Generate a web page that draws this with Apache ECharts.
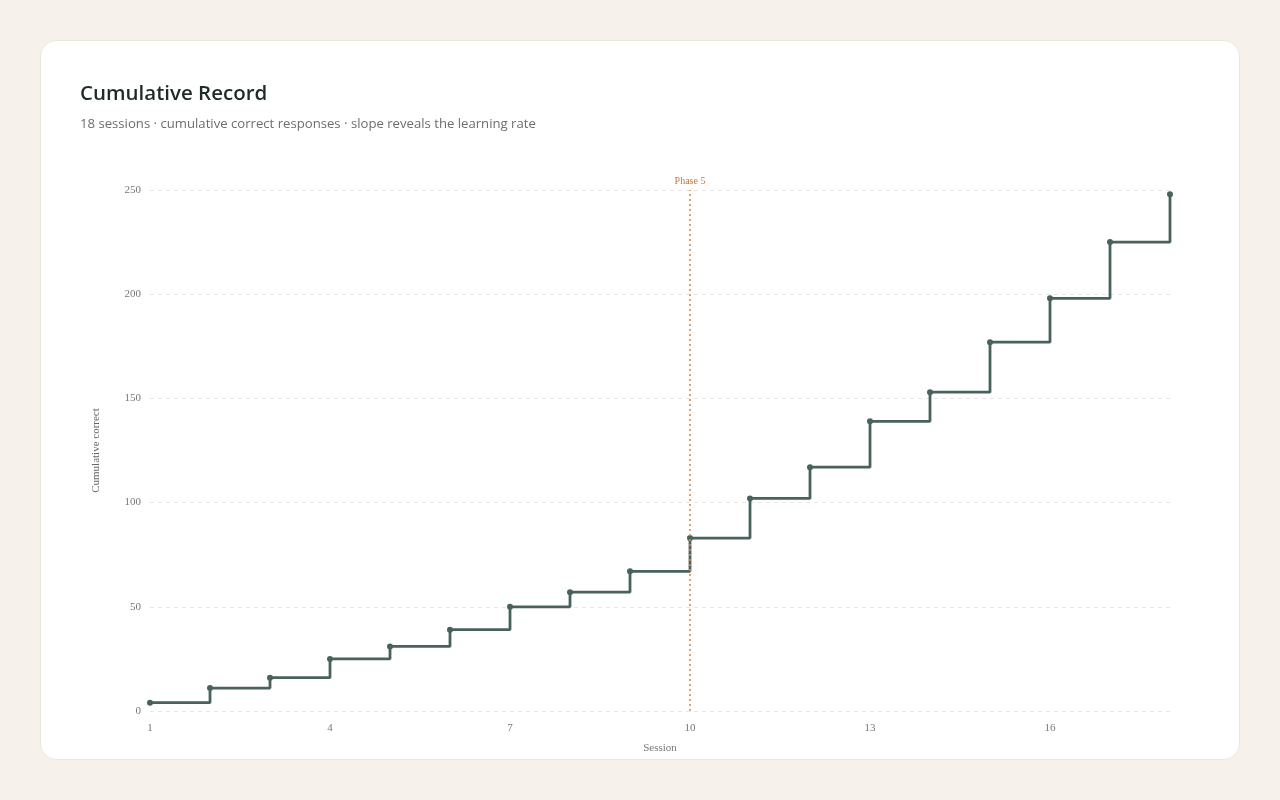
<!DOCTYPE html>
<html lang="en" style="height: 100%">
<head>
  <meta charset="utf-8">
  <title>Cumulative Record</title>
</head>
<body style="height: 100%; margin: 0; background: #f6f2eb">
  <div id="card" style="position: absolute; left: 40px; top: 40px; width: 1198px; height: 718px; background: #fff; border: 1px solid #ebe6de; border-radius: 16px;">
    <div id="container" style="width: 100%; height: 100%"></div>
  </div>
  <script type="text/javascript" src="https://cdn.jsdelivr.net/npm/echarts@6/dist/echarts.min.js"></script>
  <script type="text/javascript">
    // sessions and cumulative correct responses
    const sessions = ['1','2','3','4','5','6','7','8','9','10','11','12','13','14','15','16','17','18'];
    const cumulative = [4, 11, 16, 25, 31, 39, 50, 57, 67, 83, 102, 117, 139, 153, 177, 198, 225, 248];
    const phaseSession = '10';
    const phaseLabel = 'Phase 5';

    var dom = document.getElementById('container');
    var myChart = echarts.init(dom, null, { renderer: 'canvas' });

    const serif = '"Liberation Serif", "DejaVu Serif", serif';

    var option = {
      animation: false,
      title: {
        text: 'Cumulative Record',
        subtext: '18 sessions · cumulative correct responses · slope reveals the learning rate',
        left: 34,
        top: 38,
        itemGap: 13,
        textStyle: {
          fontFamily: '"Open Sans", "Noto Sans", sans-serif',
          fontSize: 20.5,
          fontWeight: 600,
          color: '#1f2b28'
        },
        subtextStyle: {
          fontFamily: '"Open Sans", "Noto Sans", sans-serif',
          fontSize: 13.15,
          color: '#6b6f6c'
        }
      },
      grid: {
        left: 109,
        right: 69,
        top: 149,
        bottom: 48
      },
      xAxis: {
        type: 'category',
        data: sessions,
        boundaryGap: false,
        name: 'Session',
        nameLocation: 'middle',
        nameGap: 32,
        nameTextStyle: { fontFamily: serif, fontSize: 11, color: '#777' },
        axisLine: { show: false },
        axisTick: { show: false },
        axisLabel: {
          interval: 2,
          margin: 12,
          fontFamily: serif,
          fontSize: 11,
          color: '#777'
        },
        splitLine: { show: false }
      },
      yAxis: {
        type: 'value',
        min: 0,
        max: 250,
        interval: 50,
        name: 'Cumulative correct',
        nameLocation: 'middle',
        nameGap: 48,
        nameTextStyle: { fontFamily: serif, fontSize: 11, color: '#666' },
        axisLine: { show: false },
        axisTick: { show: false },
        axisLabel: {
          margin: 9,
          fontFamily: serif,
          fontSize: 11,
          color: '#777'
        },
        splitLine: {
          lineStyle: { color: '#e6e6e6', type: [4, 4], width: 1 }
        }
      },
      series: [
        {
          type: 'line',
          step: 'end',
          data: cumulative,
          symbol: 'circle',
          symbolSize: 6,
          itemStyle: { color: '#4a625d' },
          lineStyle: { color: '#4a625d', width: 2.8 },
          markLine: {
            silent: true,
            symbol: 'none',
            lineStyle: { color: '#d98c50', type: [2, 3], width: 1.6 },
            label: {
              formatter: phaseLabel,
              position: 'end',
              fontFamily: serif,
              fontSize: 10,
              color: '#c9753c',
              distance: 4
            },
            data: [{ xAxis: phaseSession }]
          }
        }
      ]
    };

    myChart.setOption(option);
    window.addEventListener('resize', myChart.resize);
  </script>
</body>
</html>
